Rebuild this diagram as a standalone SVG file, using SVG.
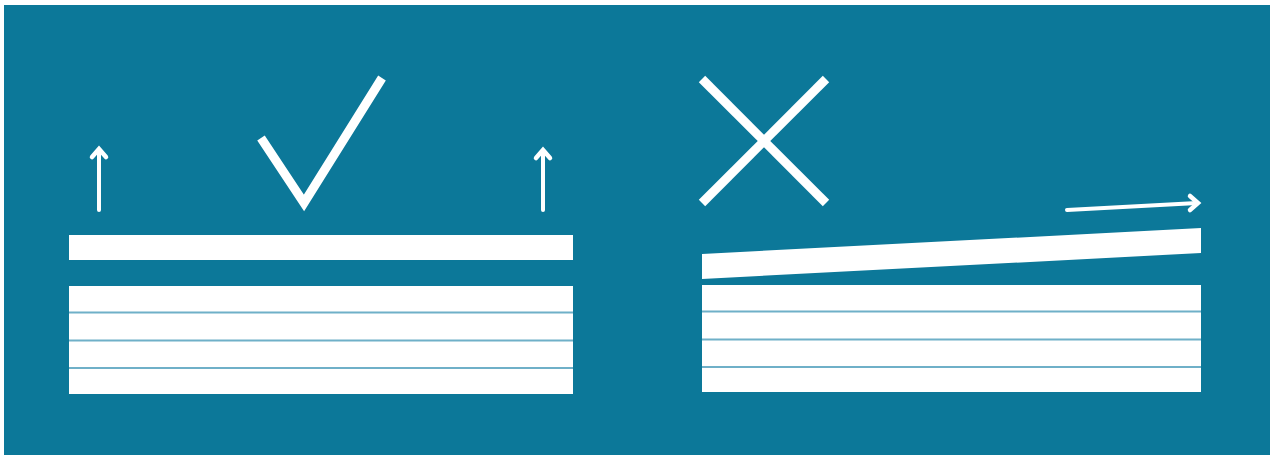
<svg xmlns="http://www.w3.org/2000/svg" width="1274" height="459" viewBox="0 0 1274 459">
  <style>
    .bg { fill: #0c7899; }
    .layer { fill: #ffffff; }
    .sep { stroke: #6fb0c8; stroke-width: 2; fill: none; }
    .mark { stroke: #ffffff; stroke-width: 9; fill: none; stroke-linecap: butt; stroke-linejoin: miter; }
    .arrow { stroke: #ffffff; stroke-width: 4; fill: none; stroke-linecap: round; stroke-linejoin: round; }
    .head { stroke: #ffffff; stroke-width: 4.5; fill: none; stroke-linecap: round; stroke-linejoin: miter; }
  </style>
  <rect x="0" y="0" width="1274" height="459" fill="#ffffff"/>
  <rect class="bg" x="4" y="5" width="1266" height="450"/>

  <g id="good-stack">
    <rect class="layer" x="69" y="235" width="504" height="25"/>
    <rect class="layer" x="69" y="286" width="504" height="108"/>
    <line class="sep" x1="69" y1="312.5" x2="573" y2="312.5"/>
    <line class="sep" x1="69" y1="340.5" x2="573" y2="340.5"/>
    <line class="sep" x1="69" y1="368" x2="573" y2="368"/>
  </g>

  <g id="good-arrows">
    <path class="arrow" d="M99 210 V150"/>
    <path class="head" d="M92 157 L99 149 L106 157"/>
    <path class="arrow" d="M543 210 V151"/>
    <path class="head" d="M536 158 L543 150 L550 158"/>
  </g>

  <g id="checkmark">
    <polyline class="mark" points="261,138 304,203 382,78"/>
  </g>

  <g id="bad-stack">
    <polygon class="layer" points="702,254 1201,228 1201,253 702,279"/>
    <rect class="layer" x="702" y="285" width="499" height="107"/>
    <line class="sep" x1="702" y1="311.5" x2="1201" y2="311.5"/>
    <line class="sep" x1="702" y1="339.5" x2="1201" y2="339.5"/>
    <line class="sep" x1="702" y1="367" x2="1201" y2="367"/>
  </g>

  <g id="bad-arrow">
    <path class="arrow" d="M1067 210 L1197 203"/>
    <path class="head" d="M1190 196 L1198 203 L1190 210"/>
  </g>

  <g id="cross">
    <line class="mark" x1="702" y1="79" x2="826" y2="203"/>
    <line class="mark" x1="826" y1="79" x2="702" y2="203"/>
  </g>
</svg>
